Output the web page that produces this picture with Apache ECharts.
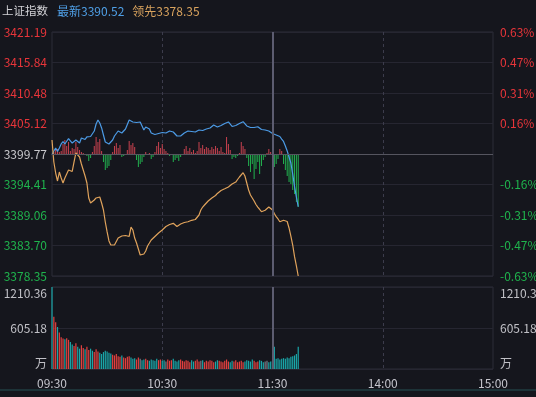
<!DOCTYPE html>
<html><head><meta charset="utf-8">
<script src="https://cdn.jsdelivr.net/npm/echarts@6/dist/echarts.min.js"></script>
<style>html,body{margin:0;padding:0;background:#15161d;}#c{width:536px;height:397px;}</style>
</head><body><div id="c"></div>
<script>
const basePrice = 3399.77;
const priceStep = 5.355;
const priceTickLabels = ['3378.35','3383.70','3389.06','3394.41','3399.77','3405.12','3410.48','3415.84','3421.19'];
const pctTickLabels = ['-0.63%','-0.47%','-0.31%','-0.16%','','0.16%','0.31%','0.47%','0.63%'];
const timeTickLabels = ['09:30','10:30','11:30','14:00','15:00'];
const volumeTickLabels = ['万','605.18','1210.36'];
const volumeMax = 1210.36;

const indexPrice = [
3399.65,3400.30,3400.82,3400.21,3400.82,3401.53,3401.93,3401.53,3401.70,3402.49,
3402.23,3401.70,3402.05,3402.23,3401.97,3401.70,3402.58,3402.93,3402.32,3402.76,
3403.11,3402.84,3402.58,3403.81,3405.04,3405.74,3405.21,3404.34,3403.11,3401.88,
3401.70,3401.53,3401.35,3402.23,3402.93,3403.28,3403.81,3403.98,3403.46,3403.81,
3404.16,3404.51,3405.74,3405.56,3405.39,3405.21,3405.30,3405.39,3405.39,3404.69,
3403.98,3404.51,3404.86,3404.16,3403.46,3403.28,3403.19,3403.11,3403.37,3403.63,
3403.55,3403.46,3403.46,3403.63,3403.81,3403.98,3403.63,3403.28,3402.93,3402.58,
3402.93,3403.19,3403.46,3403.63,3403.81,3403.98,3403.72,3403.46,3403.63,3403.81,
3403.98,3403.98,3403.90,3403.98,3404.16,3404.25,3404.34,3404.60,3404.86,3404.69,
3404.51,3404.69,3404.77,3404.86,3405.13,3405.30,3405.39,3405.04,3404.60,3404.69,
3404.77,3404.86,3405.13,3405.30,3405.44,3405.13,3404.69,3404.51,3404.42,3404.34,
3404.42,3404.51,3404.56,3404.34,3404.07,3403.98,3403.98,3403.98,3403.81,3403.46,
3403.37,3403.19,3403.11,3403.02,3402.84,3402.40,3401.97,3401.18,3400.30,3399.24,
3398.19,3396.26,3394.03,3392.22,3390.52];

const leadPrice = [
3402.23,3398.37,3396.43,3395.03,3396.61,3395.56,3394.68,3395.56,3396.26,3396.96,
3396.87,3396.70,3398.37,3399.95,3400.17,3399.24,3398.01,3396.96,3395.91,3394.68,
3392.05,3391.17,3391.17,3391.69,3392.05,3392.22,3392.22,3391.17,3389.94,3387.83,
3386.08,3384.50,3383.79,3383.49,3383.79,3384.14,3385.02,3385.29,3385.37,3385.55,
3385.46,3385.37,3385.29,3386.95,3386.43,3385.02,3384.14,3383.09,3382.04,3381.74,
3382.21,3382.74,3383.62,3384.14,3384.67,3384.97,3385.29,3385.64,3385.90,3386.16,
3386.43,3386.69,3387.04,3387.30,3387.39,3387.48,3387.60,3387.30,3387.04,3387.22,
3387.48,3387.60,3387.74,3387.83,3387.88,3388.01,3388.13,3388.18,3388.27,3388.45,
3389.06,3389.94,3390.46,3390.82,3391.17,3391.52,3391.78,3392.05,3392.22,3392.48,
3392.84,3393.10,3393.36,3393.54,3393.66,3393.75,3393.98,3394.24,3394.50,3394.68,
3394.85,3395.29,3395.73,3396.08,3396.49,3395.91,3394.68,3393.45,3392.57,3392.05,
3391.52,3390.90,3390.46,3390.03,3389.64,3389.76,3389.89,3390.11,3390.46,3390.29,
3389.94,3389.32,3388.76,3388.36,3387.88,3388.01,3388.13,3388.09,3387.92,3386.78,
3385.37,3383.79,3381.74,3380.11,3378.35];

const breadth = [
0,2,4,5,2,3,10,14,8,12,
3,6,5,12,7,4,2,1,0,-2,
-7,-4,2,8,17,12,15,3,-8,-16,
-14,-12,-6,2,8,11,6,9,-3,-2,
-1,4,13,9,11,7,-6,-13,-10,-8,
-3,2,0,1,-5,-3,2,8,12,6,
10,5,3,1,-2,0,-8,-6,-4,-7,
-3,-1,5,8,3,6,2,4,1,3,
12,6,9,5,7,6,4,7,5,8,
6,3,7,2,1,17,10,4,-5,-3,
-4,-2,1,12,8,5,-4,-12,-18,-10,
-25,-15,-8,-20,-12,-6,-3,1,5,2,
-8,-13,-10,-5,5,3,-10,-16,-22,-28,
-30,-36,-40,-48,-53];

const volume = [
1210,770,690,620,540,470,450,440,455,430,
400,360,340,380,330,300,350,310,290,330,
280,300,270,250,290,260,240,220,250,270,
260,240,230,210,200,220,190,180,200,170,
160,180,190,170,150,160,140,170,150,130,
140,150,130,120,140,130,120,150,130,140,
120,130,110,140,120,130,150,120,110,130,
140,120,110,130,120,100,130,110,120,140,
110,120,130,100,120,110,130,120,100,110,
130,120,110,100,120,140,110,100,120,110,
130,100,110,120,100,110,130,120,110,140,
120,100,110,130,120,100,110,120,100,110,
120,330,150,160,140,150,160,150,170,160,
180,190,200,220,330];

// categories 09:30..11:30, 13:01..15:00
function pad(n){return (n<10?'0':'')+n;}
const categories = [];
for (let m = 570; m <= 690; m++) categories.push(pad(Math.floor(m/60))+':'+pad(m%60));
for (let m = 781; m <= 900; m++) categories.push(pad(Math.floor(m/60))+':'+pad(m%60));

const RED = '#e2403f', TEAL = '#1aa6a8', GRAY = '#7c7c86';
const FONT = 'Noto Sans CJK SC';
const volColors = volume.map((v,i)=>{
  const prev = i===0 ? basePrice : indexPrice[i-1];
  const d = indexPrice[i]-prev;
  return d>0.001 ? RED : (d<-0.001 ? TEAL : GRAY);
});

const chart = echarts.init(document.getElementById('c'), null, {renderer:'canvas'});
const priceIdx = v => Math.round(v/priceStep)+4;
const priceColor = v => v>0.01 ? '#e8353a' : (v<-0.01 ? '#1fb34d' : '#c8c8cc');
const gridCommon = {left:52, right:43, show:true, borderColor:'#2c2c38', borderWidth:1, containLabel:false, outerBoundsMode:'none'};
const xCommon = {type:'category', data:categories, boundaryGap:false,
  axisLine:{show:false}, axisTick:{show:false},
  splitLine:{show:true, interval:(i,v)=> v==='10:30'||v==='14:00',
    lineStyle:{color:'#3c3c4c', type:[3,3], width:1}}};

chart.setOption({
  backgroundColor:'#15161d',
  animation:false,
  title:{left:2, top:5, padding:0,
    text:'{a|上证指数}{b|最新'+indexPrice[indexPrice.length-1].toFixed(2)+'}{c|领先'+leadPrice[leadPrice.length-1].toFixed(2)+'}',
    textStyle:{fontWeight:'normal', rich:{
      a:{color:'#d2d2d6', fontSize:11.5, fontFamily:FONT, fontWeight:'normal'},
      b:{color:'#4f9fe6', fontSize:12, fontFamily:FONT, fontWeight:'normal', padding:[0,0,0,9]},
      c:{color:'#d9a35e', fontSize:12, fontFamily:FONT, fontWeight:'normal', padding:[0,0,0,8]}}}},
  grid:[Object.assign({top:32, height:244}, gridCommon), Object.assign({top:287, height:82}, gridCommon)],
  xAxis:[
    Object.assign({gridIndex:0, axisLabel:{show:false}}, xCommon),
    Object.assign({gridIndex:1, axisLabel:{show:true, interval:(i,v)=>timeTickLabels.includes(v),
      color:'#c4c4cc', fontSize:12, fontFamily:FONT, margin:8}}, xCommon)
  ],
  yAxis:[
    {type:'value', gridIndex:0, position:'left', min:-21.42, max:21.42, interval:priceStep,
     axisLine:{show:false}, axisTick:{show:false},
     splitLine:{show:true, lineStyle:{color:'#262631', width:1}},
     axisLabel:{formatter:v=>priceTickLabels[priceIdx(v)], color:v=>priceColor(v), fontSize:12, fontFamily:FONT, margin:5}},
    {type:'value', gridIndex:0, position:'right', min:-21.42, max:21.42, interval:priceStep,
     axisLine:{show:false}, axisTick:{show:false}, splitLine:{show:false},
     axisLabel:{formatter:v=>pctTickLabels[priceIdx(v)], color:v=>priceColor(v), fontSize:12, fontFamily:FONT, margin:7, align:'left'}},
    {type:'value', gridIndex:0, min:-122, max:122, show:false, splitLine:{show:false}},
    {type:'value', gridIndex:1, position:'left', min:0, max:volumeMax, interval:volumeMax/2,
     axisLine:{show:false}, axisTick:{show:false},
     splitLine:{show:true, lineStyle:{color:'#262631', width:1}},
     axisLabel:{formatter:v=>volumeTickLabels[Math.round(v/(volumeMax/2))], color:'#c0c0c6', fontSize:12, fontFamily:FONT, margin:5,
       verticalAlignMaxLabel:'top', verticalAlignMinLabel:'bottom'}},
    {type:'value', gridIndex:1, position:'right', min:0, max:volumeMax, interval:volumeMax/2,
     axisLine:{show:false}, axisTick:{show:false}, splitLine:{show:false},
     axisLabel:{formatter:v=>volumeTickLabels[Math.round(v/(volumeMax/2))], color:'#c0c0c6', fontSize:12, fontFamily:FONT, margin:7, align:'left',
       verticalAlignMaxLabel:'top', verticalAlignMinLabel:'bottom'}}
  ],
  series:[
    {type:'bar', xAxisIndex:0, yAxisIndex:2, data:breadth, barWidth:1, silent:true,
     itemStyle:{color:p=>p.value>=0 ? '#c8424f' : '#22b24f'}},
    {type:'line', xAxisIndex:0, yAxisIndex:0, data:indexPrice.map(p=>+(p-basePrice).toFixed(2)),
     showSymbol:false, symbol:'none', lineStyle:{color:'#4c9be6', width:1.2}, silent:true,
     markLine:{silent:true, symbol:'none', label:{show:false}, animation:false,
       data:[{yAxis:0, lineStyle:{color:'#55555f', width:1, type:'solid'}},
             {xAxis:120, lineStyle:{color:'#5c5c70', width:2, type:'solid'}}]}},
    {type:'line', xAxisIndex:0, yAxisIndex:0, data:leadPrice.map(p=>+(p-basePrice).toFixed(2)),
     showSymbol:false, symbol:'none', lineStyle:{color:'#e0a35c', width:1.2}, silent:true},
    {type:'bar', xAxisIndex:1, yAxisIndex:3, data:volume.map((v,i)=>({value:v, itemStyle:{color:volColors[i]}})),
     barWidth:1.2, silent:true,
     markLine:{silent:true, symbol:'none', label:{show:false}, animation:false,
       data:[{xAxis:120, lineStyle:{color:'#5c5c70', width:2, type:'solid'}}]}}
  ],
  graphic:[{type:'rect', left:0, top:389, shape:{width:536, height:2}, style:{fill:'#1d3338'}, silent:true}]
});
</script></body></html>
